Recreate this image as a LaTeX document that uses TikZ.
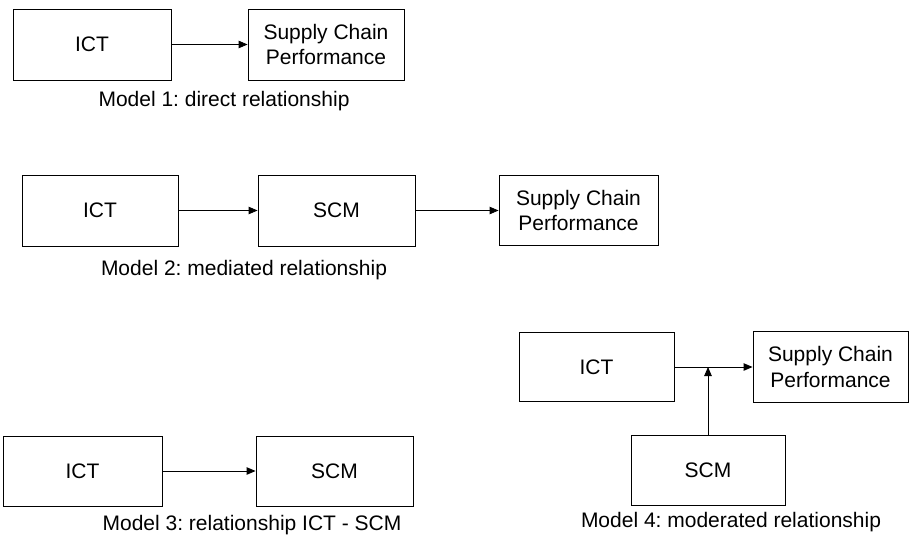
\documentclass[tikz,border=0pt]{standalone}
\usepackage{fontspec}
\setmainfont{Liberation Sans}
\usetikzlibrary{arrows.meta}
\frenchspacing
\begin{document}
\begin{tikzpicture}[x=1pt,y=-1pt,
  box/.style={draw, line width=0.9pt, inner sep=0pt, align=center, font=\fontsize{21}{25.5}\selectfont},
  captext/.style={font=\fontsize{21}{25.5}\selectfont, inner sep=0pt},
  arr/.style={line width=0.9pt, -{Triangle[length=9pt,width=7.5pt]}}]
\useasboundingbox (0,0) rectangle (909,540);
% Model 1
\node[box, minimum width=158pt, minimum height=71pt] (ict1) at (92,44.5) {ICT};
\node[box, minimum width=156pt, minimum height=71pt] (scp1) at (326,44.5) {Supply Chain\\Performance};
\node[captext] (cap1) at (224,101) {Model 1: direct relationship};
\draw[arr] (ict1) -- (scp1);
% Model 2
\node[box, minimum width=156pt, minimum height=71pt] (ict2) at (100,210.5) {ICT};
\node[box, minimum width=157pt, minimum height=71pt] (scm2) at (336.5,210.5) {SCM};
\node[box, minimum width=159pt, minimum height=70pt] (scp2) at (578.5,210.5) {Supply Chain\\Performance};
\node[captext] (cap2) at (244,270) {Model 2: mediated relationship};
\draw[arr] (ict2) -- (scm2);
\draw[arr] (scm2) -- (scp2);
% Model 3
\node[box, minimum width=159pt, minimum height=70pt] (ict3) at (82.5,471) {ICT};
\node[box, minimum width=157pt, minimum height=70pt] (scm3) at (334.5,471) {SCM};
\node[captext] (cap3) at (252,525) {Model 3: relationship ICT - SCM};
\draw[arr] (ict3) -- (scm3);
% Model 4
\node[box, minimum width=155pt, minimum height=69pt] (ict4) at (596.5,367) {ICT};
\node[box, minimum width=155pt, minimum height=71pt] (scp4) at (830.5,367) {Supply Chain\\Performance};
\node[box, minimum width=154pt, minimum height=70pt] (scm4) at (708,470) {SCM};
\node[captext] (cap4) at (731,522) {Model 4: moderated relationship};
\coordinate (m4) at (scm4.north |- ict4.east);
\draw[arr] (ict4) -- (scp4);
\draw[arr] (scm4.north) -- (m4);
\end{tikzpicture}
\end{document}
